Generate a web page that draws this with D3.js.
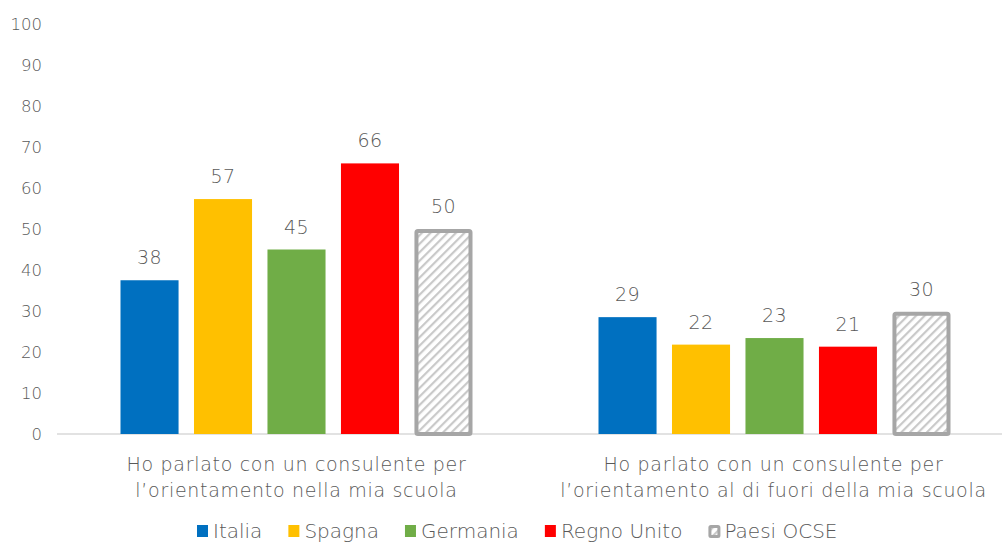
<!DOCTYPE html>
<html><head><meta charset="utf-8">
<script src="https://cdn.jsdelivr.net/npm/d3@7"></script>
<style>body{margin:0;background:#fff}svg{display:block}text{font-family:"DejaVu Sans",sans-serif;font-weight:200;fill:#595959}</style>
</head><body><svg id="c" width="1002" height="543"></svg>
<script>
const categories = [["Ho parlato con un consulente per","l\u2019orientamento nella mia scuola"],["Ho parlato con un consulente per","l\u2019orientamento al di fuori della mia scuola"]];
const seriesNames = ["Italia","Spagna","Germania","Regno Unito","Paesi OCSE"];
const seriesColors = ["#0070C0","#FFC000","#70AD47","#FF0000","#A6A6A6"];
const valuesGroup1 = [37.5,57.3,45,66,50];
const valuesGroup2 = [28.5,21.8,23.4,21.3,29.8];
const yTicks = [0,10,20,30,40,50,60,70,80,90,100];

const data = [valuesGroup1, valuesGroup2];
const svg = d3.select("#c");
const defs = svg.append("defs");
const pat = defs.append("pattern").attr("id","hatch").attr("patternUnits","userSpaceOnUse")
  .attr("width",6).attr("height",6).attr("patternTransform","rotate(45)");
pat.append("rect").attr("width",6).attr("height",6).attr("fill","#fff");
pat.append("rect").attr("x",0).attr("width",2.2).attr("height",6).attr("fill","#c9c9c9");

const y = d3.scaleLinear().domain([0,100]).range([434,24]);
const x0 = d3.scaleBand().domain([0,1]).range([57.5,1013.5]).paddingInner(0).paddingOuter(0);
const x1 = d3.scaleBand().domain(d3.range(5)).range([63,415]).paddingInner(0.21).paddingOuter(0);

const ya = svg.append("g").attr("transform","translate(42,0)")
  .call(d3.axisLeft(y).tickValues(yTicks).tickSize(0).tickPadding(0));
ya.select(".domain").remove();
ya.selectAll("text").style("font-size","16.5px").attr("fill","#595959").style("font-family","DejaVu Sans").style("font-weight","200");

svg.append("line").attr("x1",57).attr("x2",1002).attr("y1",y(0)).attr("y2",y(0))
  .attr("stroke","#d9d9d9").attr("stroke-width",1.5);

const g = svg.append("g");
data.forEach((vals,gi)=>{
  const gx = x0(gi);
  vals.forEach((v,si)=>{
    const bx = gx + x1(si), bw = x1.bandwidth();
    if(si===4){
      g.append("rect").attr("x",bx+2).attr("y",y(v)+2).attr("width",bw-4).attr("height",y(0)-y(v)-2)
        .attr("fill","url(#hatch)").attr("stroke","#A6A6A6").attr("stroke-width",4).attr("rx",1.5);
    } else {
      g.append("rect").attr("x",bx).attr("y",y(v)).attr("width",bw).attr("height",y(0)-y(v))
        .attr("fill",seriesColors[si]);
    }
    g.append("text").attr("x",bx+bw/2).attr("y",y(v)-16).attr("text-anchor","middle")
      .style("font-size","19px").style("letter-spacing","0.5px").text(Math.round(v));
  });
  categories[gi].forEach((line,li)=>{
    svg.append("text").attr("x",gx+x0.bandwidth()/2-(gi===1?1:0)).attr("y",471+li*26).attr("text-anchor","middle")
      .style("font-size","19px").style("letter-spacing","0.7px").text(line);
  });
});

const lg = svg.append("g");
let lx = 197;
seriesNames.forEach((n,i)=>{
  if(i===4){
    lg.append("rect").attr("x",lx+1.5).attr("y",526.5).attr("width",9).attr("height",10)
      .attr("fill","url(#hatch)").attr("stroke","#A6A6A6").attr("stroke-width",3).attr("rx",1);
  } else {
    lg.append("rect").attr("x",lx).attr("y",525).attr("width",11).attr("height",12).attr("fill",seriesColors[i]);
  }
  const t = lg.append("text").attr("x",lx+16).attr("y",537.5).style("font-size","20px").text(n);
  lx += 16 + t.node().getComputedTextLength() + 26;
});
</script></body></html>
